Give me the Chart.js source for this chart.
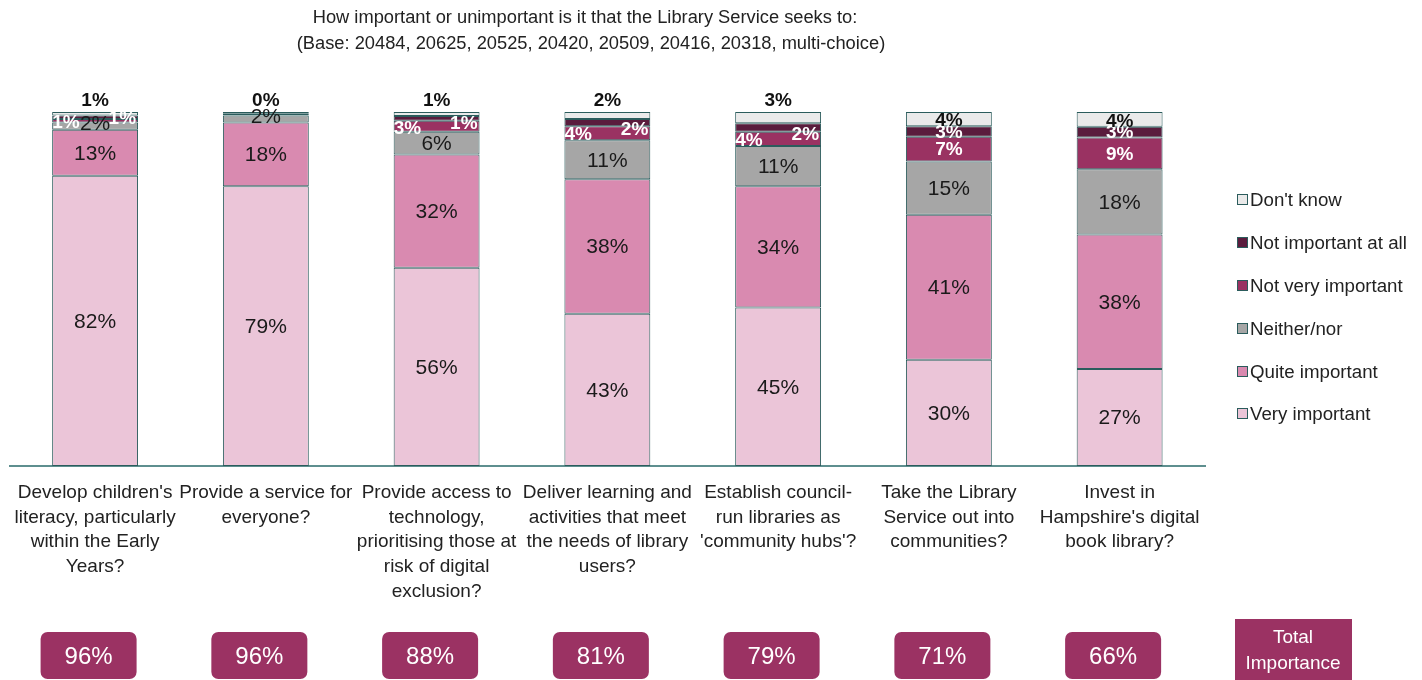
<!DOCTYPE html>
<html><head><meta charset="utf-8">
<script src="https://cdn.jsdelivr.net/npm/chart.js@4.4.1/dist/chart.umd.min.js"></script>
<style>html,body{margin:0;padding:0;background:#fff;}#wrap{width:1422px;height:680px;}</style>
</head><body><div id="wrap"><canvas id="c" width="1422" height="680"></canvas></div>
<script>
const categories = [
  ["Develop children's", "literacy, particularly", "within the Early", "Years?"],
  ["Provide a service for", "everyone?"],
  ["Provide access to", "technology,", "prioritising those at", "risk of digital", "exclusion?"],
  ["Deliver learning and", "activities that meet", "the needs of library", "users?"],
  ["Establish council-", "run libraries as", "'community hubs'?"],
  ["Take the Library", "Service out into", "communities?"],
  ["Invest in", "Hampshire's digital", "book library?"]
];
const seriesNames = ["Very important", "Quite important", "Neither/nor", "Not very important", "Not important at all", "Don't know"];
const veryImportant     = [82, 79, 56, 43, 44.8, 30, 27.4];
const quiteImportant    = [13, 18, 32, 38, 34.2, 41, 38];
const neitherNor        = [2, 2, 6.4, 11, 11.4, 15, 18.4];
const notVeryImportant  = [1, 0.5, 3.1, 4, 4, 7, 9];
const notImportantAtAll = [1, 0.5, 1.4, 2, 2.4, 3, 3];
const dontKnow          = [1, 0, 1.1, 2, 3.2, 4, 4.2];
const totalImportance   = [96, 96, 88, 81, 79, 71, 66];
const titleLines = ["How important or unimportant is it that the Library Service seeks to:",
                    "(Base: 20484, 20625, 20525, 20420, 20509, 20416, 20318, multi-choice)"];
const totalLabel = ["Total", "Importance"];

const seriesValues = [veryImportant, quiteImportant, neitherNor, notVeryImportant, notImportantAtAll, dontKnow];
const colors = ['#EBC5D8', '#D98AB0', '#A6A6A6', '#9A3262', '#5A1C3D', '#EAEAEA'];
const borderCol = '#2B5C5C';
const FONT = '"Liberation Sans", Arial, sans-serif';
const boxFill = '#9B3263';

const labelPlugin = {
  id: 'labels',
  afterDatasetsDraw(chart) {
    const ctx = chart.ctx;
    ctx.save();
    const getBar = (d, i) => chart.getDatasetMeta(d).data[i].getProps(['x', 'y', 'base', 'width'], true);
    chart.data.datasets.forEach((ds, di) => {
      ds.data.forEach((v, i) => {
        const b = getBar(di, i);
        const top = Math.min(b.y, b.base), bot = Math.max(b.y, b.base);
        const cy = (top + bot) / 2;
        const left = b.x - b.width / 2, right = b.x + b.width / 2;
        const txt = Math.round(v) + '%';
        ctx.textBaseline = 'middle';
        if (di <= 2) {
          ctx.font = '21px ' + FONT; ctx.fillStyle = '#1a1a1a'; ctx.textAlign = 'center';
          ctx.fillText(txt, b.x, v < 3 ? cy - 2 : cy + 1);
        } else if (di === 3) {
          if (v < 1) return;
          ctx.font = 'bold 19px ' + FONT; ctx.fillStyle = '#fff';
          if (v < 5) { ctx.textAlign = 'left'; ctx.fillText(txt, left, cy + 2); }
          else { ctx.textAlign = 'center'; ctx.fillText(txt, b.x, cy + 1); }
        } else if (di === 4) {
          if (v < 1) return;
          ctx.font = 'bold 19px ' + FONT; ctx.fillStyle = '#fff';
          const nv = getBar(3, i);
          if (notVeryImportant[i] < 5) {
            const nvBot = Math.max(nv.y, nv.base);
            ctx.textAlign = 'right'; ctx.fillText(txt, right - 2, (top + nvBot) / 2);
          } else { ctx.textAlign = 'center'; ctx.fillText(txt, b.x, cy + 1); }
        } else if (di === 5) {
          ctx.font = 'bold 19px ' + FONT; ctx.fillStyle = '#111'; ctx.textAlign = 'center';
          if (v < 3.5) ctx.fillText(txt, b.x, top - 11);
          else ctx.fillText(txt, b.x, cy + 2);
        }
      });
    });
    ctx.restore();
  },
  afterDraw(chart) {
    const ctx = chart.ctx;
    ctx.save();
    // title
    ctx.fillStyle = '#222'; ctx.textAlign = 'center'; ctx.textBaseline = 'middle';
    ctx.font = '18.3px "Liberation Sans Narrow", "Liberation Sans", Arial, sans-serif';
    ctx.fillText(titleLines[0], 585, 18);
    ctx.fillText(titleLines[1], 591, 44);
    // legend
    const ly = [414, 372, 329, 286, 243, 200];
    seriesNames.forEach((n, k) => {
      const y = ly[k];
      ctx.fillStyle = colors[k]; ctx.fillRect(1237.5, y - 5.5, 10, 10);
      ctx.strokeStyle = borderCol; ctx.lineWidth = 1; ctx.strokeRect(1237.5, y - 5.5, 10, 10);
      ctx.fillStyle = '#222'; ctx.font = '18.7px ' + FONT; ctx.textAlign = 'left'; ctx.textBaseline = 'middle';
      ctx.fillText(n, 1250, y + 1);
    });
    // total importance boxes
    const meta = chart.getDatasetMeta(0);
    totalImportance.forEach((t, i) => {
      const x = meta.data[i].x - 6.5;
      ctx.fillStyle = boxFill;
      ctx.beginPath(); ctx.roundRect(x - 48, 632, 96, 47, 7); ctx.fill();
      ctx.fillStyle = '#fff'; ctx.font = '24px ' + FONT; ctx.textAlign = 'center'; ctx.textBaseline = 'middle';
      ctx.fillText(t + '%', x, 657);
    });
    ctx.fillStyle = boxFill; ctx.fillRect(1235, 619, 117, 70);
    ctx.fillStyle = '#fff'; ctx.font = '19px ' + FONT; ctx.textAlign = 'center';
    ctx.fillText(totalLabel[0], 1293, 638);
    ctx.fillText(totalLabel[1], 1293, 664);
    ctx.restore();
  }
};

new Chart(document.getElementById('c'), {
  type: 'bar',
  data: {
    labels: categories,
    datasets: seriesNames.map((n, k) => ({
      label: n, data: seriesValues[k], backgroundColor: colors[k],
      borderColor: borderCol, borderWidth: 1, borderSkipped: false,
      categoryPercentage: 1, barPercentage: 0.503
    }))
  },
  options: {
    responsive: false, animation: false, devicePixelRatio: 1,
    layout: { padding: { left: 7, right: 217, top: 112, bottom: 0 } },
    plugins: { legend: { display: false }, title: { display: false }, tooltip: { enabled: false } },
    scales: {
      x: {
        stacked: true,
        grid: { display: false, drawTicks: false },
        border: { display: true, color: '#5E8F8F', width: 2 },
        ticks: { autoSkip: false, maxRotation: 0, minRotation: 0, padding: 14, color: '#222',
                 font: { family: FONT, size: 19, lineHeight: 1.31 } },
        afterFit(s) { s.height = 214; }
      },
      y: { stacked: true, display: false, min: 0, max: 100 }
    }
  },
  plugins: [labelPlugin]
});
</script></body></html>
